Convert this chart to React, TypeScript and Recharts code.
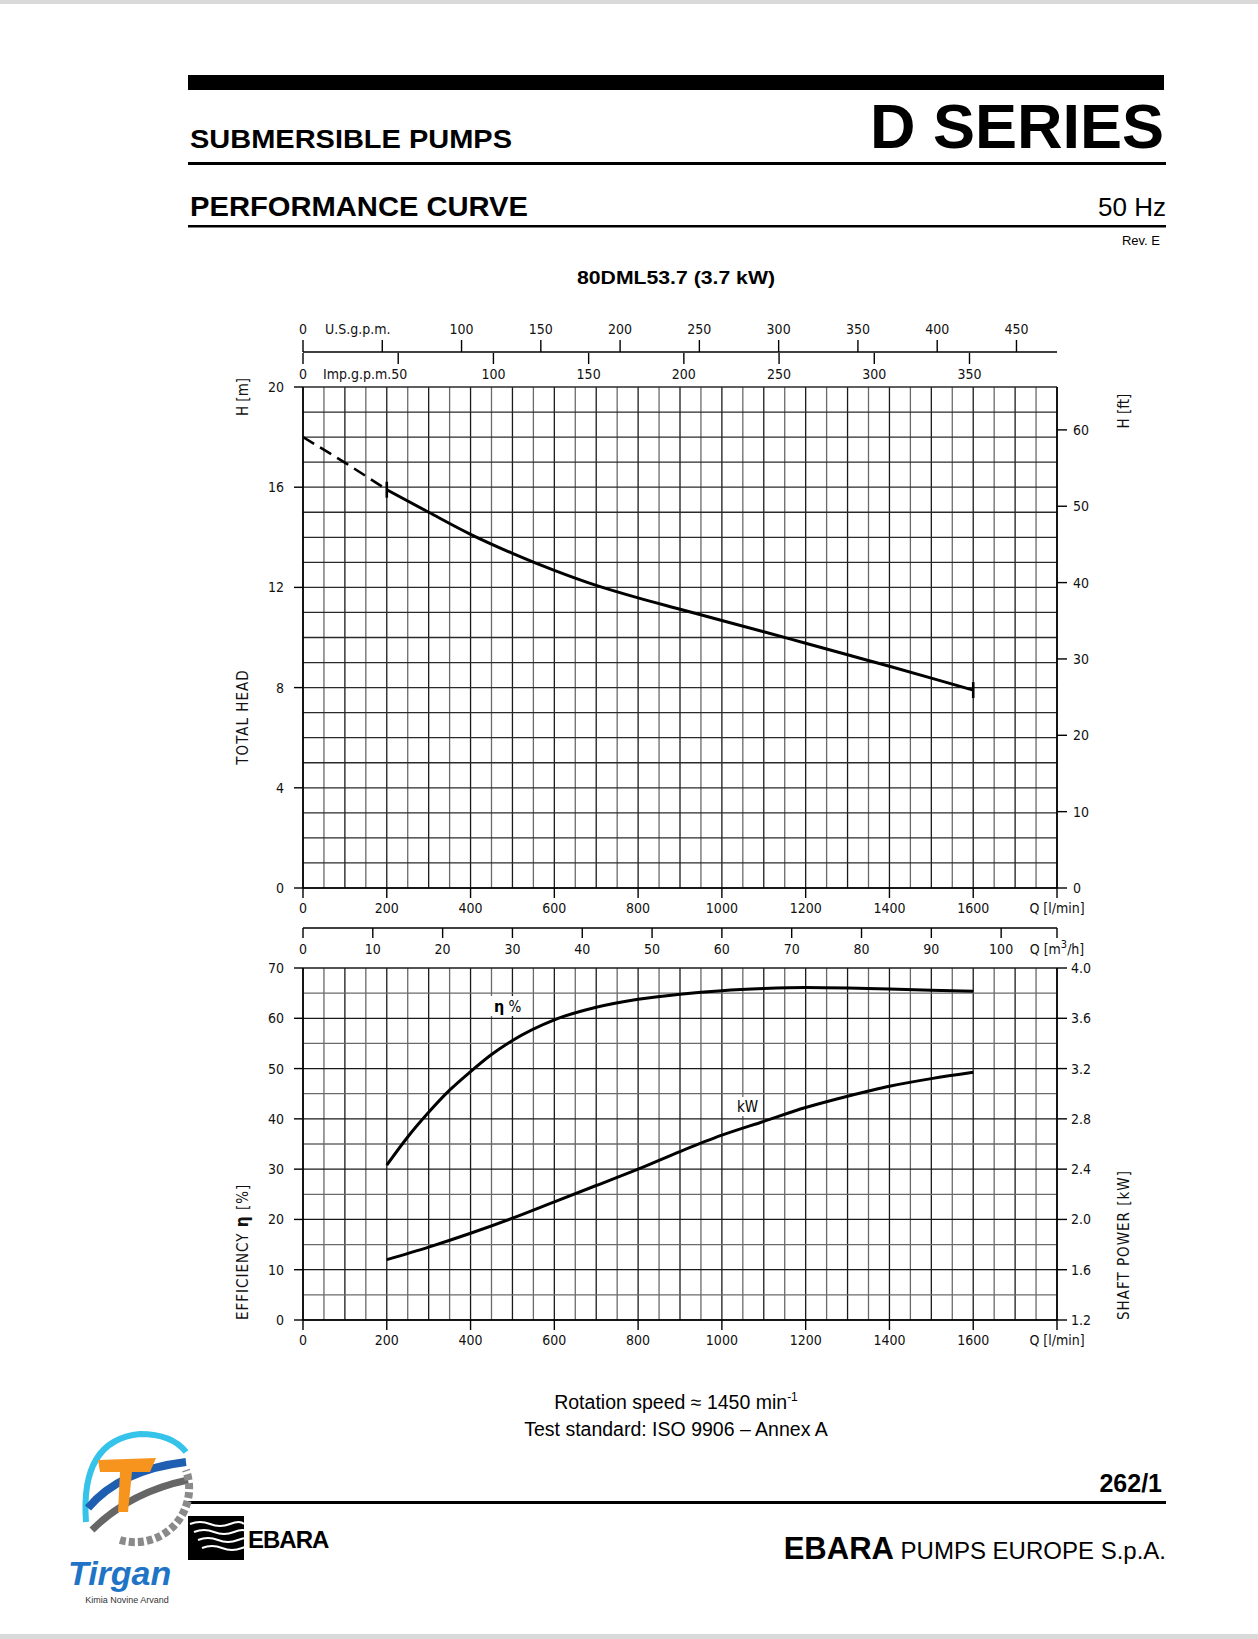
import React from 'react';
import { ComposedChart, Line, XAxis, YAxis, ReferenceLine, Scatter } from 'recharts';

// flow scales
const flowTicks = [0, 200, 400, 600, 800, 1000, 1200, 1400, 1600, 1800];
const m3hTicks = [0, 10, 20, 30, 40, 50, 60, 70, 80, 90, 100, 108];
const usTicks = [0, 50, 100, 150, 200, 250, 300, 350, 400, 450];
const impTicks = [0, 50, 100, 150, 200, 250, 300, 350];

// head chart
const headTicks = [0, 4, 8, 12, 16, 20];
const ftTicks = [0, 10, 20, 30, 40, 50, 60];
const headDashed = [
  { q: 0, h: 18.0 },
  { q: 100, h: 16.98 },
  { q: 200, h: 15.9 },
];
const headSolid = [
  { q: 200, h: 15.9 },
  { q: 300, h: 15.0 },
  { q: 400, h: 14.12 },
  { q: 500, h: 13.36 },
  { q: 600, h: 12.68 },
  { q: 700, h: 12.08 },
  { q: 800, h: 11.58 },
  { q: 900, h: 11.13 },
  { q: 1000, h: 10.68 },
  { q: 1100, h: 10.23 },
  { q: 1200, h: 9.77 },
  { q: 1300, h: 9.31 },
  { q: 1400, h: 8.85 },
  { q: 1500, h: 8.38 },
  { q: 1600, h: 7.9 },
];
const headMarks = [
  { q: 200, h: 15.9 },
  { q: 1600, h: 7.9 },
];

// efficiency / power chart
const effTicks = [0, 10, 20, 30, 40, 50, 60, 70];
const kwTicks = [1.2, 1.6, 2.0, 2.4, 2.8, 3.2, 3.6, 4.0];
const effData = [
  { q: 200, e: 30.8 },
  { q: 250, e: 36.4 },
  { q: 300, e: 41.3 },
  { q: 350, e: 45.7 },
  { q: 400, e: 49.4 },
  { q: 450, e: 52.8 },
  { q: 500, e: 55.6 },
  { q: 600, e: 59.7 },
  { q: 700, e: 62.2 },
  { q: 800, e: 63.8 },
  { q: 900, e: 64.8 },
  { q: 1000, e: 65.5 },
  { q: 1100, e: 65.9 },
  { q: 1200, e: 66.1 },
  { q: 1300, e: 66.0 },
  { q: 1400, e: 65.8 },
  { q: 1500, e: 65.6 },
  { q: 1600, e: 65.4 },
];
const kwData = [
  { q: 200, p: 1.68 },
  { q: 300, p: 1.78 },
  { q: 400, p: 1.89 },
  { q: 500, p: 2.01 },
  { q: 600, p: 2.14 },
  { q: 700, p: 2.27 },
  { q: 800, p: 2.4 },
  { q: 900, p: 2.54 },
  { q: 1000, p: 2.67 },
  { q: 1100, p: 2.78 },
  { q: 1200, p: 2.89 },
  { q: 1300, p: 2.98 },
  { q: 1400, p: 3.06 },
  { q: 1500, p: 3.12 },
  { q: 1600, p: 3.17 },
];

const range = (a: number, b: number, s: number) => {
  const r: number[] = [];
  for (let v = a; v <= b + 1e-9; v += s) r.push(Math.round(v * 100) / 100);
  return r;
};
const gridFlow = range(0, 1800, 50);
const gridHead = range(0, 20, 1);
const gridEff = range(0, 70, 5);

const W = 1258;
const PX0 = 303;
const PX1 = 1057;
const YL = 60;
const YR = 70;
const FONT = "'Liberation Sans Narrow', 'DejaVu Sans Condensed', 'Liberation Sans', sans-serif";
const HFONT = "'Liberation Sans', Arial, sans-serif";
const tickStyle = { fontSize: 14, fill: '#111', fontFamily: FONT };
const axisLine = { stroke: '#000', strokeWidth: 1.6 };
const tickLine = { stroke: '#000', strokeWidth: 1.4 };

const FlowTick = ({ x, y, payload }: any) => (
  <text x={x} y={y} dy="0.75em" textAnchor="middle" {...tickStyle}>
    {payload.value === 1800 ? 'Q [l/min]' : payload.value}
  </text>
);

const M3Tick = ({ x, y, payload }: any) =>
  payload.value === 108 ? (
    <text x={x} y={y} dy="0.75em" textAnchor="middle" {...tickStyle}>
      Q [m<tspan dy="-6" fontSize={11}>3</tspan>
      <tspan dy="6">/h]</tspan>
    </text>
  ) : (
    <text x={x} y={y} dy="0.75em" textAnchor="middle" {...tickStyle}>
      {payload.value}
    </text>
  );

const UsTick = ({ x, y, payload }: any) => {
  if (payload.value === 50) return <g />;
  return (
    <g>
      <text x={x} y={y} textAnchor="middle" {...tickStyle}>
        {payload.value}
      </text>
      {payload.value === 0 && (
        <text x={x + 22} y={y} textAnchor="start" {...tickStyle}>
          U.S.g.p.m.
        </text>
      )}
    </g>
  );
};

const ImpTick = ({ x, y, payload }: any) => (
  <text
    x={payload.value === 50 ? x + 9 : x}
    y={y}
    dy="0.75em"
    textAnchor={payload.value === 50 ? 'end' : 'middle'}
    {...tickStyle}
  >
    {payload.value === 50 ? 'Imp.g.p.m.50' : payload.value}
  </text>
);

const MarkShape = (p: any) => (
  <g>
    <line x1={p.cx} x2={p.cx} y1={p.cy - 8} y2={p.cy + 8} stroke="#000" strokeWidth={2.6} />
  </g>
);

const vStroke = (v: number) => (v % 100 === 0 ? '#1a1a1a' : '#6a6a6a');

function GpmStrip() {
  return (
    <div style={{ position: 'absolute', left: 0, top: 290, width: W, height: 110 }}>
      <ComposedChart
        width={W}
        height={110}
        data={usTicks.map((t) => ({ us: t }))}
        margin={{ top: 12, right: W - PX1, bottom: 7, left: PX0 }}
      >
        <XAxis
          xAxisId="us"
          orientation="top"
          type="number"
          dataKey="us"
          domain={[0, 1800 / 3.785]}
          ticks={usTicks}
          height={50}
          tickSize={12}
          tickMargin={6}
          axisLine={axisLine}
          tickLine={tickLine}
          tick={<UsTick />}
          interval={0}
          allowDataOverflow
        />
        <XAxis
          xAxisId="imp"
          orientation="bottom"
          type="number"
          dataKey="imp"
          domain={[0, 1800 / 4.546]}
          ticks={impTicks}
          height={40}
          tickSize={11}
          tickMargin={4}
          axisLine={false}
          tickLine={tickLine}
          tick={<ImpTick />}
          interval={0}
          allowDataOverflow
        />
        <YAxis yAxisId="s" hide domain={[0, 1]} />
      </ComposedChart>
    </div>
  );
}

function HeadChart() {
  return (
    <div style={{ position: 'absolute', left: 0, top: 380, width: W, height: 600 }}>
      <ComposedChart
        width={W}
        height={600}
        data={m3hTicks.map((t) => ({ m3: t }))}
        margin={{ top: 7, right: W - PX1 - YR, bottom: 12, left: PX0 - YL }}
      >
        <XAxis
          xAxisId={0}
          type="number"
          dataKey="q"
          domain={[0, 1800]}
          ticks={flowTicks}
          interval={0}
          height={40}
          tickSize={10}
          tickMargin={4}
          axisLine={axisLine}
          tickLine={tickLine}
          tick={<FlowTick />}
          allowDataOverflow
        />
        <XAxis
          xAxisId={1}
          type="number"
          dataKey="m3"
          domain={[0, 108]}
          ticks={m3hTicks}
          interval={0}
          height={40}
          tickSize={10}
          tickMargin={5}
          axisLine={axisLine}
          tickLine={tickLine}
          tick={<M3Tick />}
          allowDataOverflow
        />
        <YAxis
          yAxisId="m"
          type="number"
          dataKey="h"
          domain={[0, 20]}
          ticks={headTicks}
          interval={0}
          width={YL}
          tickSize={9}
          tickMargin={10}
          axisLine={axisLine}
          tickLine={tickLine}
          tick={tickStyle}
          allowDataOverflow
        />
        <YAxis
          yAxisId="ft"
          orientation="right"
          type="number"
          domain={[0, 20 / 0.3048]}
          ticks={ftTicks}
          interval={0}
          width={YR}
          tickSize={10}
          tickMargin={6}
          axisLine={axisLine}
          tickLine={tickLine}
          tick={{ ...tickStyle, textAnchor: 'start' }}
          allowDataOverflow
        />
        {gridFlow.map((v) => (
          <ReferenceLine key={'v' + v} xAxisId={0} yAxisId="m" x={v} stroke={vStroke(v)} strokeWidth={1.3} />
        ))}
        {gridHead.map((v) => (
          <ReferenceLine key={'h' + v} xAxisId={0} yAxisId="m" y={v} stroke="#2a2a2a" strokeWidth={1.3} />
        ))}
        <Line
          xAxisId={0}
          yAxisId="m"
          data={headDashed}
          dataKey="h"
          type="monotone"
          stroke="#000"
          strokeWidth={2.6}
          strokeDasharray="13 7"
          dot={false}
          isAnimationActive={false}
        />
        <Line
          xAxisId={0}
          yAxisId="m"
          data={headSolid}
          dataKey="h"
          type="monotone"
          stroke="#000"
          strokeWidth={3}
          dot={false}
          isAnimationActive={false}
        />
        <Scatter
          xAxisId={0}
          yAxisId="m"
          data={headMarks}
          dataKey="h"
          shape={<MarkShape />}
          isAnimationActive={false}
        />
      </ComposedChart>
    </div>
  );
}

function EffChart() {
  return (
    <div style={{ position: 'absolute', left: 0, top: 960, width: W, height: 400 }}>
      <ComposedChart
        width={W}
        height={400}
        margin={{ top: 8, right: W - PX1 - YR, bottom: 0, left: PX0 - YL }}
      >
        <XAxis
          xAxisId="q"
          type="number"
          dataKey="q"
          domain={[0, 1800]}
          ticks={flowTicks}
          interval={0}
          height={40}
          tickSize={10}
          tickMargin={4}
          axisLine={axisLine}
          tickLine={tickLine}
          tick={<FlowTick />}
        />
        <YAxis
          yAxisId="e"
          type="number"
          domain={[0, 70]}
          ticks={effTicks}
          interval={0}
          width={YL}
          tickSize={9}
          tickMargin={10}
          axisLine={axisLine}
          tickLine={tickLine}
          tick={tickStyle}
        />
        <YAxis
          yAxisId="kw"
          orientation="right"
          type="number"
          domain={[1.2, 4.0]}
          ticks={kwTicks}
          interval={0}
          width={YR}
          tickSize={10}
          tickMargin={4}
          axisLine={axisLine}
          tickLine={tickLine}
          tick={{ ...tickStyle, textAnchor: 'start' }}
          tickFormatter={(v: number) => v.toFixed(1)}
        />
        {gridFlow.map((v) => (
          <ReferenceLine key={'v' + v} xAxisId="q" yAxisId="e" x={v} stroke={vStroke(v)} strokeWidth={1.3} />
        ))}
        {gridEff.map((v) => (
          <ReferenceLine
            key={'h' + v}
            xAxisId="q"
            yAxisId="e"
            y={v}
            stroke={v % 10 === 0 ? '#1a1a1a' : '#6a6a6a'}
            strokeWidth={1.3}
          />
        ))}
        <Line
          xAxisId="q"
          yAxisId="e"
          data={effData}
          dataKey="e"
          type="monotone"
          stroke="#000"
          strokeWidth={3}
          dot={false}
          isAnimationActive={false}
        />
        <Line
          xAxisId="q"
          yAxisId="kw"
          data={kwData}
          dataKey="p"
          type="monotone"
          stroke="#000"
          strokeWidth={3}
          dot={false}
          isAnimationActive={false}
        />
      </ComposedChart>
    </div>
  );
}

function Overlay() {
  const t = { fontFamily: FONT, fontSize: 15, fill: '#111' };
  return (
    <svg
      width={W}
      height={1639}
      style={{ position: 'absolute', left: 0, top: 0, pointerEvents: 'none' }}
    >
      <rect x={0} y={0} width={W} height={4} fill="#d9d9d9" />
      <rect x={0} y={1634} width={W} height={5} fill="#d9d9d9" />
      {/* header */}
      <rect x={188} y={75} width={976} height={15} fill="#000" />
      <text x={190} y={148} fontFamily={HFONT} fontWeight="bold" fontSize={26} textLength={322} lengthAdjust="spacingAndGlyphs">
        SUBMERSIBLE PUMPS
      </text>
      <text x={1164} y={148} textAnchor="end" fontFamily={HFONT} fontWeight="bold" fontSize={63}>
        D SERIES
      </text>
      <rect x={188} y={162} width={978} height={3} fill="#000" />
      <text x={190} y={216} fontFamily={HFONT} fontWeight="bold" fontSize={28} textLength={338} lengthAdjust="spacingAndGlyphs">
        PERFORMANCE CURVE
      </text>
      <text x={1166} y={216} textAnchor="end" fontFamily={HFONT} fontSize={26}>
        50 Hz
      </text>
      <rect x={188} y={225} width={978} height={2.5} fill="#000" />
      <text x={1160} y={245} textAnchor="end" fontFamily={HFONT} fontSize={13}>
        Rev. E
      </text>
      <text x={577} y={284} fontFamily={HFONT} fontWeight="bold" fontSize={19} textLength={198} lengthAdjust="spacingAndGlyphs">
        80DML53.7 (3.7 kW)
      </text>

      {/* axis titles */}
      <text transform="translate(248,397) rotate(-90)" textAnchor="middle" {...t}>
        H [m]
      </text>
      <text transform="translate(248,717) rotate(-90)" textAnchor="middle" letterSpacing={1} {...t}>
        TOTAL HEAD
      </text>
      <text transform="translate(1129,411) rotate(-90)" textAnchor="middle" {...t}>
        H [ft]
      </text>
      <text transform="translate(248,1320) rotate(-90)" textAnchor="start" letterSpacing={1} {...t}>
        EFFICIENCY{'   '}
        <tspan fontWeight="bold" fontSize={17}>η</tspan> [%]
      </text>
      <text transform="translate(1129,1320) rotate(-90)" textAnchor="start" letterSpacing={1} {...t}>
        SHAFT POWER [kW]
      </text>

      {/* curve labels */}
      <rect x={490} y={996} width={34} height={20} fill="#fff" />
      <text x={494} y={1012} fontFamily={FONT} fontSize={15} fill="#000">
        <tspan fontWeight="bold" fontSize={16}>η</tspan> %
      </text>
      <rect x={734} y={1097} width={26} height={19} fill="#fff" />
      <text x={737} y={1112} fontFamily={FONT} fontSize={15} fill="#000">
        kW
      </text>

      {/* footer */}
      <text x={676} y={1409} textAnchor="middle" fontFamily={HFONT} fontSize={19.5}>
        Rotation speed ≈ 1450 min<tspan dy="-8" fontSize={12}>-1</tspan>
      </text>
      <text x={676} y={1436} textAnchor="middle" fontFamily={HFONT} fontSize={19.5}>
        Test standard: ISO 9906 – Annex A
      </text>
      <text x={1162} y={1492} textAnchor="end" fontFamily={HFONT} fontWeight="bold" fontSize={25}>
        262/1
      </text>
      <rect x={188} y={1501} width={978} height={3} fill="#000" />
      <text x={1166} y={1559} textAnchor="end" fontFamily={HFONT} fontSize={24}>
        <tspan fontWeight="bold" fontSize={31}>EBARA</tspan> PUMPS EUROPE S.p.A.
      </text>

      {/* EBARA logo */}
      <rect x={188} y={1516} width={56} height={44} fill="#000" />
      {[1524, 1532, 1540, 1548].map((yy, i) => (
        <path
          key={yy}
          d={`M ${190 + i * 4} ${yy} q 10 -4 20 0 t 20 0 t 14 0`}
          stroke="#fff"
          strokeWidth={2}
          fill="none"
        />
      ))}
      <text x={248} y={1548} fontFamily={HFONT} fontWeight="bold" fontSize={24} letterSpacing={-1}>
        EBARA
      </text>

      {/* Tirgan logo */}
      <path d="M 86 1522 Q 80 1440 140 1434 Q 172 1434 186 1452" stroke="#35c3ea" strokeWidth={6} fill="none" />
      <path d="M 88 1508 Q 120 1470 186 1462" stroke="#1e5fb2" strokeWidth={8} fill="none" />
      <path d="M 92 1530 Q 130 1492 188 1480" stroke="#666" strokeWidth={7} fill="none" />
      <path
        d="M 120 1540 A 54 54 0 0 0 186 1470"
        stroke="#8a8a8a"
        strokeWidth={8}
        strokeDasharray="6 3"
        fill="none"
      />
      <path d="M 98 1460 L 156 1458 L 150 1472 L 132 1472 L 128 1512 L 118 1512 L 120 1472 L 100 1472 Z" fill="#f7941d" />
      <text x={68} y={1585} fontFamily={HFONT} fontWeight="bold" fontStyle="italic" fontSize={34} fill="#1f74c6">
        Tirgan
      </text>
      <text x={127} y={1603} textAnchor="middle" fontFamily={HFONT} fontSize={9} fill="#333">
        Kimia Novine Arvand
      </text>
    </svg>
  );
}

export default function App() {
  return (
    <div style={{ position: 'absolute', left: 0, top: 0, width: W, height: 1639, background: '#fff' }}>
      <GpmStrip />
      <HeadChart />
      <EffChart />
      <Overlay />
    </div>
  );
}
